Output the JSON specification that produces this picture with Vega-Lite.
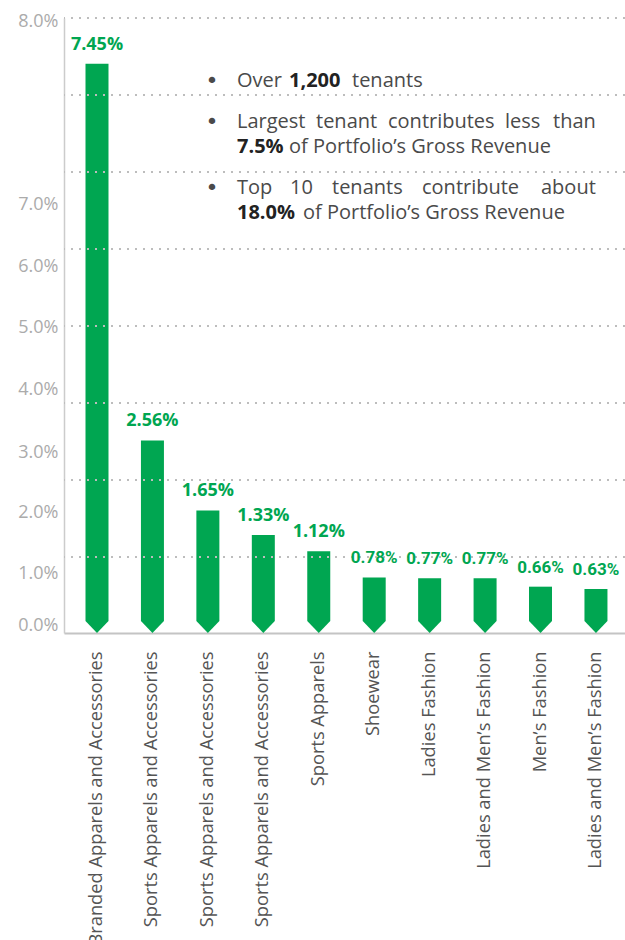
{
 "$schema": "https://vega.github.io/schema/vega-lite/v6.json",
 "width": 561,
 "height": 615,
 "autosize": "none",
 "padding": {"left": 64, "top": 18, "right": 0, "bottom": 307},
 "background": "white",
 "config": {"view": {"stroke": null}, "font": "Open Sans"},
 "data": {"values": [
  {"rank": 1, "trade": "Branded Apparels and Accessories", "share": 0.0745},
  {"rank": 2, "trade": "Sports Apparels and Accessories", "share": 0.0256},
  {"rank": 3, "trade": "Sports Apparels and Accessories\u200b", "share": 0.0165},
  {"rank": 4, "trade": "Sports Apparels and Accessories\u200b\u200b", "share": 0.0133},
  {"rank": 5, "trade": "Sports Apparels", "share": 0.0112},
  {"rank": 6, "trade": "Shoewear", "share": 0.0078},
  {"rank": 7, "trade": "Ladies Fashion", "share": 0.0077},
  {"rank": 8, "trade": "Ladies and Men’s Fashion", "share": 0.0077},
  {"rank": 9, "trade": "Men’s Fashion", "share": 0.0066},
  {"rank": 10, "trade": "Ladies and Men’s Fashion\u200b", "share": 0.0063}
 ]},
 "layer": [
  {
   "mark": {"type": "bar", "width": 23, "color": "#00a651"},
   "encoding": {
    "x": {"field": "trade", "type": "nominal", "sort": null,
     "scale": {"paddingInner": 0, "paddingOuter": 0.0595, "align": 0.8},
     "axis": {"title": null, "labelAngle": -90, "labelAlign": "right", "labelBaseline": "middle", "ticks": false,
      "domainColor": "#c4c4c4", "domainWidth": 2, "labelColor": "#555555", "labelFont": "Open Sans",
      "labelFontSize": 18.3, "labelPadding": 18, "labelLimit": 400}},
    "y": {"field": "share", "type": "quantitative",
     "scale": {"domain": [0.000584, 0.080455], "nice": false, "zero": false},
     "axis": {"title": null, "values": [0.00162, 0.00825, 0.01617, 0.02409, 0.03227, 0.04032, 0.04812, 0.05617, 0.08006],
      "labelExpr": "datum.value > 0.07 ? '8.0%' : datum.value > 0.052 ? '7.0%' : datum.value > 0.044 ? '6.0%' : datum.value > 0.036 ? '5.0%' : datum.value > 0.028 ? '4.0%' : datum.value > 0.02 ? '3.0%' : datum.value > 0.012 ? '2.0%' : datum.value > 0.005 ? '1.0%' : '0.0%'",
      "ticks": false, "grid": false, "domainColor": "#cccccc", "domainWidth": 1.5,
      "labelColor": "#ababab", "labelFont": "Open Sans", "labelFontSize": 18, "labelPadding": 6,
      "labelOverlap": false, "labelFlush": false, "labelBound": false}},
    "y2": {"datum": 0.00214}
   }
  },
  {
   "data": {"values": [{"g": 0.010455}, {"g": 0.020455}, {"g": 0.030455}, {"g": 0.040455}, {"g": 0.050455}, {"g": 0.060455}, {"g": 0.070455}, {"g": 0.080455}]},
   "mark": {"type": "rule", "color": "#bdbdbd", "strokeWidth": 2, "strokeDash": [2, 6]},
   "encoding": {"y": {"field": "g", "type": "quantitative"}}
  },
  {
   "mark": {"type": "point", "shape": "M-1,0L1,0L0,1.04Z", "size": 529, "filled": true, "color": "#00a651", "opacity": 1, "strokeWidth": 0},
   "encoding": {
    "x": {"field": "trade", "type": "nominal", "sort": null},
    "y": {"datum": 0.00214}
   }
  },
  {
   "mark": {"type": "text", "font": "Open Sans", "fontWeight": "bold", "fontSize": 18, "color": "#00a651", "dy": -19, "baseline": "middle"},
   "encoding": {
    "x": {"field": "trade", "type": "nominal", "sort": null},
    "y": {"field": "share", "type": "quantitative"},
    "text": {"field": "share", "type": "quantitative", "format": ".2%"},
    "opacity": {"condition": {"test": "datum.rank <= 5", "value": 1}, "value": 0}
   }
  },
  {
   "mark": {"type": "text", "font": "Roboto", "fontWeight": "bold", "fontSize": 17, "color": "#00a651", "dy": -19, "baseline": "middle"},
   "encoding": {
    "x": {"field": "trade", "type": "nominal", "sort": null},
    "y": {"field": "share", "type": "quantitative"},
    "text": {"field": "share", "type": "quantitative", "format": ".2%"},
    "opacity": {"condition": {"test": "datum.rank > 5", "value": 1}, "value": 0}
   }
  },
  {
   "data": {"values": [{}]},
   "layer": [
    {"mark": {"type": "text", "text": "•", "align": "center", "baseline": "middle", "font": "DejaVu Sans", "fontSize": 22, "color": "#4a4a4a"}, "encoding": {"x": {"value": 148}, "y": {"datum": 0.07227}}},
    {"mark": {"type": "text", "text": "Over", "align": "left", "baseline": "middle", "fontSize": 20, "color": "#4a4a4a"}, "encoding": {"x": {"value": 173}, "y": {"datum": 0.07227}}},
    {"mark": {"type": "text", "text": "1,200", "align": "left", "baseline": "middle", "fontSize": 20, "fontWeight": "bold", "color": "#222222"}, "encoding": {"x": {"value": 225}, "y": {"datum": 0.07227}}},
    {"mark": {"type": "text", "text": "tenants", "align": "left", "baseline": "middle", "fontSize": 20, "color": "#4a4a4a"}, "encoding": {"x": {"value": 288}, "y": {"datum": 0.07227}}},

    {"mark": {"type": "text", "text": "•", "align": "center", "baseline": "middle", "font": "DejaVu Sans", "fontSize": 22, "color": "#4a4a4a"}, "encoding": {"x": {"value": 148}, "y": {"datum": 0.06695}}},
    {"mark": {"type": "text", "text": "Largest", "align": "left", "baseline": "middle", "fontSize": 20, "color": "#4a4a4a"}, "encoding": {"x": {"value": 173}, "y": {"datum": 0.06695}}},
    {"mark": {"type": "text", "text": "tenant", "align": "left", "baseline": "middle", "fontSize": 20, "color": "#4a4a4a"}, "encoding": {"x": {"value": 252}, "y": {"datum": 0.06695}}},
    {"mark": {"type": "text", "text": "contributes", "align": "left", "baseline": "middle", "fontSize": 20, "color": "#4a4a4a"}, "encoding": {"x": {"value": 324}, "y": {"datum": 0.06695}}},
    {"mark": {"type": "text", "text": "less", "align": "left", "baseline": "middle", "fontSize": 20, "color": "#4a4a4a"}, "encoding": {"x": {"value": 441}, "y": {"datum": 0.06695}}},
    {"mark": {"type": "text", "text": "than", "align": "left", "baseline": "middle", "fontSize": 20, "color": "#4a4a4a"}, "encoding": {"x": {"value": 489}, "y": {"datum": 0.06695}}},

    {"mark": {"type": "text", "text": "7.5%", "align": "left", "baseline": "middle", "fontSize": 20, "fontWeight": "bold", "color": "#222222"}, "encoding": {"x": {"value": 173}, "y": {"datum": 0.0637}}},
    {"mark": {"type": "text", "text": "of Portfolio’s Gross Revenue", "align": "left", "baseline": "middle", "fontSize": 20, "color": "#4a4a4a"}, "encoding": {"x": {"value": 225}, "y": {"datum": 0.0637}}},

    {"mark": {"type": "text", "text": "•", "align": "center", "baseline": "middle", "font": "DejaVu Sans", "fontSize": 22, "color": "#4a4a4a"}, "encoding": {"x": {"value": 148}, "y": {"datum": 0.05838}}},
    {"mark": {"type": "text", "text": "Top", "align": "left", "baseline": "middle", "fontSize": 20, "color": "#4a4a4a"}, "encoding": {"x": {"value": 173}, "y": {"datum": 0.05838}}},
    {"mark": {"type": "text", "text": "10", "align": "left", "baseline": "middle", "fontSize": 20, "color": "#4a4a4a"}, "encoding": {"x": {"value": 226}, "y": {"datum": 0.05838}}},
    {"mark": {"type": "text", "text": "tenants", "align": "left", "baseline": "middle", "fontSize": 20, "color": "#4a4a4a"}, "encoding": {"x": {"value": 268}, "y": {"datum": 0.05838}}},
    {"mark": {"type": "text", "text": "contribute", "align": "left", "baseline": "middle", "fontSize": 20, "color": "#4a4a4a"}, "encoding": {"x": {"value": 358}, "y": {"datum": 0.05838}}},
    {"mark": {"type": "text", "text": "about", "align": "left", "baseline": "middle", "fontSize": 20, "color": "#4a4a4a"}, "encoding": {"x": {"value": 477}, "y": {"datum": 0.05838}}},

    {"mark": {"type": "text", "text": "18.0%", "align": "left", "baseline": "middle", "fontSize": 20, "fontWeight": "bold", "color": "#222222"}, "encoding": {"x": {"value": 173}, "y": {"datum": 0.05513}}},
    {"mark": {"type": "text", "text": "of Portfolio’s Gross Revenue", "align": "left", "baseline": "middle", "fontSize": 20, "color": "#4a4a4a"}, "encoding": {"x": {"value": 239}, "y": {"datum": 0.05513}}}
   ]
  }
 ]
}
